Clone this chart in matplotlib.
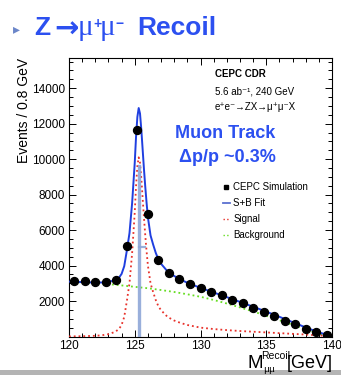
"""
Z->mumu 反冲质量谱：CEPC 模拟点 + S+B 拟合 + 信号 / 本底分量
输出 out.png (341x375)
"""
import matplotlib
matplotlib.use('Agg')
import matplotlib.pyplot as plt
from matplotlib.lines import Line2D
from matplotlib.patches import Rectangle
from matplotlib.ticker import MultipleLocator

plt.rcParams['font.family'] = ['Liberation Sans', 'DejaVu Sans']

# ===================== 数据 =====================
# 模拟点（0.8 GeV 一格，取 bin 中心）
bin_centers = [120.4, 121.2, 122.0, 122.8, 123.6, 124.4, 125.2, 126.0, 126.8,
               127.6, 128.4, 129.2, 130.0, 130.8, 131.6, 132.4, 133.2, 134.0,
               134.8, 135.6, 136.4, 137.2, 138.0, 138.8, 139.6]
events = [3140, 3150, 3100, 3080, 3180, 5120, 11630, 6900, 4300,
          3570, 3220, 2950, 2715, 2525, 2340, 2060, 1870, 1625,
          1400, 1155, 890, 690, 420, 270, 85]

# 拟合曲线采样（峰附近加密）
curve_x = [120.0, 121.0, 122.0, 122.5, 123.0, 123.5, 123.8, 124.0, 124.2, 124.4,
           124.6, 124.8, 125.0, 125.1, 125.2, 125.3, 125.4, 125.5, 125.6, 125.7,
           125.8, 125.9, 126.0, 126.2, 126.4, 126.6, 126.8, 127.0, 127.5, 128.0,
           128.5, 129.0, 130.0, 131.0, 132.0, 133.0, 134.0, 135.0, 136.0, 137.0,
           138.0, 139.0, 140.0]
signal = [5, 15, 40, 70, 130, 260, 420, 650, 1100, 2000,
          3000, 4700, 7000, 8500, 9600, 10100, 9800, 8900, 7800, 6700,
          5700, 4800, 4000, 3000, 2500, 2050, 1700, 1480, 1100, 900,
          760, 650, 500, 420, 360, 310, 270, 230, 190, 150,
          110, 60, 20]
sb_fit = [3095, 3065, 3040, 3045, 3080, 3175, 3314, 3530, 3964, 4850,
          5830, 7520, 9800, 11290, 12380, 12880, 12570, 11660, 10550, 9440,
          8440, 7530, 6720, 5700, 5180, 4710, 4340, 4100, 3665, 3410,
          3205, 3030, 2740, 2480, 2220, 1950, 1680, 1400, 1110, 810,
          510, 230, 20]

bkg_x = [120, 121, 122, 123, 124, 125, 126, 127, 128, 129, 130,
         131, 132, 133, 134, 135, 136, 137, 138, 139, 140]
background = [3090, 3050, 3000, 2950, 2880, 2800, 2720, 2620, 2510, 2380, 2240,
              2060, 1860, 1640, 1410, 1170, 920, 660, 400, 170, 0]

# 峰位与半高宽标记
peak_mass = 125.3
peak_mark_top = 9600
half_max = 5050
half_right = 125.75

BLUE_TXT = '#2c50f0'
W, H = 341, 375


def fx(px):
    """像素 x → figure 坐标"""
    return px / W


def fy(py):
    """像素 y（自上而下）→ figure 坐标"""
    return 1 - py / H


# ===================== 画布 =====================
fig = plt.figure(figsize=(W / 100, H / 100), dpi=100)
fig.patch.set_facecolor('white')

# 幻灯片卡片阴影（左、下）
fig.patches.append(Rectangle((0, 0), fx(9), 1 - fy(5), transform=fig.transFigure,
                             facecolor='#dedede', edgecolor='none', zorder=0))
fig.patches.append(Rectangle((fx(8), 0), fx(1.2), 1 - fy(5), transform=fig.transFigure,
                             facecolor='#b8b8b8', edgecolor='none', zorder=0))
fig.patches.append(Rectangle((0, 0), 1, fy(370), transform=fig.transFigure,
                             facecolor='#b4b4b4', edgecolor='none', zorder=0))

# 标题：分段写，μ 用衬线体，+/- 上标
base = fy(35)
fig.text(fx(13), fy(29), '\u25B8', color='#6b86c9', fontsize=10,
         family=['DejaVu Sans'], ha='left', va='center')
fig.text(fx(34), base, 'Z', color=BLUE_TXT, fontsize=19, fontweight='bold', va='baseline')
fig.text(fx(54), fy(30), '\u2192', color=BLUE_TXT, fontsize=21, fontweight='bold',
         family=['DejaVu Sans'], va='center')
fig.text(fx(78), base, '\u03bc', color=BLUE_TXT, fontsize=21, family=['Liberation Serif'], va='baseline')
fig.text(fx(93), fy(24), '+', color=BLUE_TXT, fontsize=10, fontweight='bold', va='center')
fig.text(fx(100), base, '\u03bc', color=BLUE_TXT, fontsize=21, family=['Liberation Serif'], va='baseline')
fig.text(fx(115), fy(24), '\u2212', color=BLUE_TXT, fontsize=10, fontweight='bold', va='center')
fig.text(fx(137), base, 'Recoil', color=BLUE_TXT, fontsize=19, fontweight='bold', va='baseline')

ax = fig.add_axes([fx(69), fy(336.5), 263 / W, 278.5 / H])

ax.plot(bkg_x, background, color='#66dd22', ls=':', lw=1.3, zorder=2)
ax.plot(curve_x, signal, color='#e8312a', ls=':', lw=1.3, zorder=3)
ax.plot([peak_mass, peak_mass], [0, peak_mark_top], color='#8ea6d8', lw=2.4, alpha=0.9, zorder=4)
ax.plot([peak_mass, half_right], [half_max, half_max], color='#8ea6d8', lw=1.6, alpha=0.9, zorder=4)
ax.plot(curve_x, sb_fit, color='#1f3fe0', lw=1.4, zorder=5)
ax.plot(bin_centers, events, 'o', color='black', ms=5.7, zorder=6)

ax.set_xlim(120, 140)
ax.set_ylim(0, 15700)
ax.xaxis.set_major_locator(MultipleLocator(5))
ax.xaxis.set_minor_locator(MultipleLocator(1))
ax.yaxis.set_minor_locator(MultipleLocator(500))
ax.set_yticks([2000, 4000, 6000, 8000, 10000, 12000, 14000])
ax.tick_params(which='both', direction='in', top=True, right=True, labelsize=8.5, width=0.7)
ax.tick_params(which='major', length=5, pad=3)
ax.tick_params(which='minor', length=2.8)
ax.tick_params(axis='x', pad=2.5)
for sp in ax.spines.values():
    sp.set_linewidth(0.8)

ax.text(-0.172, 1.0, 'Events / 0.8 GeV', transform=ax.transAxes, rotation=90,
        ha='center', va='top', fontsize=10)

# x 轴标题：M 加上下标，分段放置
fig.text(fx(247.5), fy(367.5), 'M', fontsize=13.5, va='baseline')
fig.text(fx(261.5), fy(359), 'Recoil', fontsize=7.5, va='baseline')
fig.text(fx(263.5), fy(372), '\u03bc\u03bc', fontsize=8, family=['Liberation Serif'], va='baseline')
fig.text(fx(333), fy(367.5), '[GeV]', fontsize=13, ha='right', va='baseline')

# 实验标注
ax.text(0.555, 0.9425, 'CEPC CDR', transform=ax.transAxes, fontsize=7, fontweight='bold', va='center')
ax.text(0.555, 0.8815, '5.6 ab\u207b\u00b9, 240 GeV', transform=ax.transAxes, fontsize=7, va='center')
ax.text(0.555, 0.824, 'e\u207ae\u207b\u2192ZX\u2192\u03bc\u207a\u03bc\u207bX', transform=ax.transAxes,
        fontsize=7, va='center')
ax.text(0.595, 0.7307, 'Muon Track', transform=ax.transAxes, fontsize=13, fontweight='bold',
        color=BLUE_TXT, ha='center', va='center')
ax.text(0.603, 0.641, '\u0394p/p ~0.3%', transform=ax.transAxes, fontsize=13, fontweight='bold',
        color=BLUE_TXT, ha='center', va='center')

handles = [
    Line2D([], [], marker='s', ls='none', color='black', ms=2.5),
    Line2D([], [], color='#5a6fd0', lw=1.3),
    Line2D([], [], color='#e8312a', ls=':', lw=1.0),
    Line2D([], [], color='#66dd22', ls=':', lw=1.0),
]
labels = ['CEPC Simulation', 'S+B Fit', 'Signal', 'Background']
ax.legend(handles, labels, loc='upper left', bbox_to_anchor=(0.584, 0.553), frameon=False,
          fontsize=7, handlelength=0.8, handletextpad=0.3, labelspacing=0.6,
          borderpad=0, borderaxespad=0)

fig.savefig('out.png', dpi=100)
